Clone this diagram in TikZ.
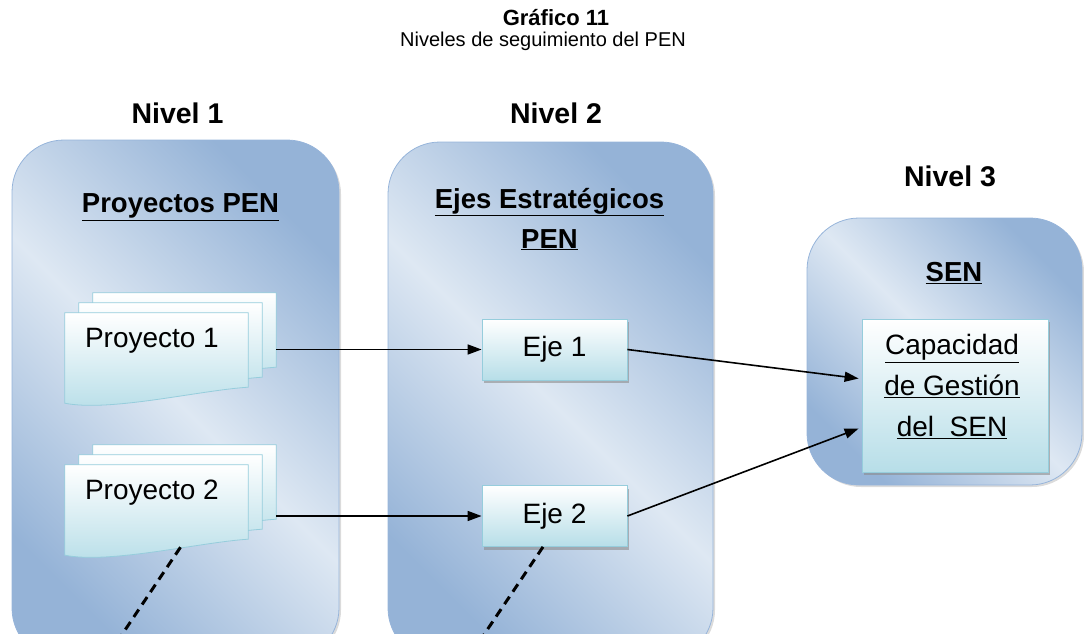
\documentclass[tikz,border=0pt]{standalone}
\usepackage{fontspec}
\setmainfont{Liberation Sans}
\usetikzlibrary{positioning,calc,arrows.meta,shadows}

\definecolor{boxdark}{RGB}{149,179,215}
\definecolor{boxlight}{RGB}{222,232,243}
\definecolor{boxedge}{RGB}{150,180,218}
\definecolor{cyanbot}{RGB}{183,222,232}
\definecolor{cyanedge}{RGB}{150,205,220}

% outline of a page with a wavy bottom
\newcommand\pagepath[1]{(#1.north west) -- (#1.north east) -- (#1.south east)
  .. controls ($(#1.south east)+(-48,3)$) and ($(#1.south west)+(45,25)$) .. ($(#1.south west)+(0,16)$) -- cycle}

\begin{document}
\begin{tikzpicture}[x=1pt,y=-1pt,
  nivel/.style={font=\fontsize{28.5}{30}\selectfont\bfseries},
  head/.style={font=\fontsize{27.5}{40}\selectfont\bfseries,align=center},
  plain/.style={font=\fontsize{28}{41}\selectfont,inner sep=0pt},
  level/.style={draw=boxedge,line width=0.8pt,rounded corners=52pt,
    top color=boxdark,bottom color=boxdark,middle color=boxlight,shading angle=-45,
    drop shadow={shadow xshift=2pt,shadow yshift=-2pt,fill=black!40,opacity=.35}},
  item/.style={draw=cyanedge,line width=0.8pt,top color=white,bottom color=cyanbot,
    drop shadow={shadow xshift=2pt,shadow yshift=-3pt,fill=black!45,opacity=.6}},
  pagebox/.style={minimum width=183pt,minimum height=74pt,inner sep=0pt},
  page/.style={draw=cyanedge,line width=0.8pt,top color=white,bottom color=cyanbot},
  link/.style={line width=1.6pt,-{Triangle[length=14pt,width=10pt]}},
  trail/.style={line width=3pt,dash pattern=on 9pt off 6pt}]
\clip (0,0) rectangle (1084,634);

\node[font=\fontsize{22}{24}\selectfont\bfseries] (title) at (556,18) {Gráfico 11};
\node[font=\fontsize{20}{24}\selectfont] (subtitle) at (543,41) {Niveles de seguimiento del PEN};

\node[nivel] (nivel1) at (177.5,113) {Nivel 1};
\node[nivel] (nivel2) at (556,113) {Nivel 2};
\node[nivel] (nivel3) at (950,176) {Nivel 3};

% level boxes
\node[level,minimum width=327pt,minimum height=520pt] (boxA) at (175.5,400) {};
\node[level,minimum width=325pt,minimum height=518pt] (boxB) at (550.5,401) {};
\node[level,minimum width=275pt,minimum height=267pt] (boxC) at (944.5,351.5) {};

\node[head] (headA) at (180.5,207) {\underline{Proyectos PEN}};
\node[head] (headB) at (549.5,219) {\underline{Ejes Estratégicos}\\\underline{PEN}};
\node[head] (headC) at (954,273) {\underline{SEN}};

% stacked project pages
\node[pagebox] (p1a) at (156.5,350) {};
\node[pagebox] (p1b) at ($(p1a)+(14,-10)$) {};
\node[pagebox] (p1c) at ($(p1b)+(14,-10)$) {};
\node[pagebox] (p2a) at (156.5,502) {};
\node[pagebox] (p2b) at ($(p2a)+(14,-10)$) {};
\node[pagebox] (p2c) at ($(p2b)+(14,-10)$) {};
\foreach \p in {p1c,p1b,p1a,p2c,p2b,p2a}
  \path[page] \pagepath{\p};
\node[plain,anchor=west] (p1t) at ($(p1a.west)+(20,-9)$) {Proyecto 1};
\node[plain,anchor=west] (p2t) at ($(p2a.west)+(20,-9)$) {Proyecto 2};

% axes and capacity
\node[item,plain,minimum width=145pt,minimum height=61pt] (e1) at (554.5,349.5) {Eje 1};
\node[item,plain,minimum width=145pt,minimum height=61pt] (e2) at (554.5,516) {Eje 2};
\node[item,minimum width=186pt,minimum height=153pt] (cap) at (955,395.5) {};
\node[plain,align=center] (capt) at ($(cap)+(-3,-9)$) {\underline{Capacidad}\\\underline{de Gestión}\\\underline{del~~SEN}};

\draw[link] (p1c.east |- e1) -- (e1.west);
\draw[link] (p2c.east |- e2) -- (e2.west);
\draw[link] (e1.east) -- ($(cap.west)+(-3,-17)$);
\draw[link] (e2.east) -- ($(cap.west)+(-3,33)$);

\coordinate (end1) at (117,642);
\coordinate (end2) at (479,642);
\draw[trail] ($(p2a.south)+(24,8)$) -- (end1);
\draw[trail] ($(e2.south)+(-11.5,0)$) -- (end2);
\end{tikzpicture}
\end{document}
